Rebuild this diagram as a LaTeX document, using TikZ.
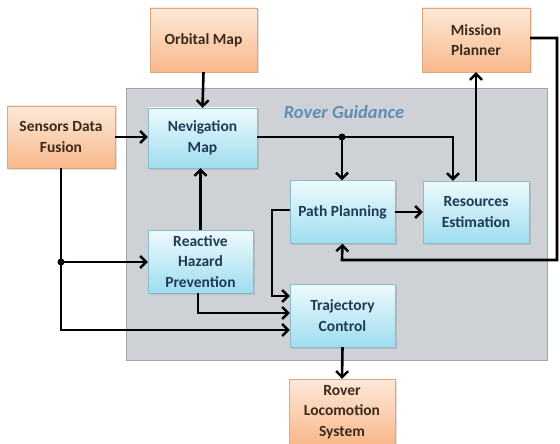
\documentclass[tikz,border=0pt]{standalone}
\usepackage{fontspec}
\setmainfont{Carlito}
\usetikzlibrary{arrows.meta,shadows}
\definecolor{orTop}{HTML}{FDE9D9}
\definecolor{orBot}{HTML}{F8B88A}
\definecolor{blTop}{HTML}{EEFAFD}
\definecolor{blBot}{HTML}{9EDDEF}
\definecolor{guideFill}{HTML}{CED1D6}
\definecolor{guideDraw}{HTML}{A3A7AD}
\definecolor{navy}{HTML}{1F3A55}
\definecolor{brownTxt}{HTML}{3A2A1C}
\definecolor{guideTxt}{HTML}{5F8DB3}
\tikzset{
  obox/.style={rectangle, top color=orTop, bottom color=orBot, draw=orBot!90!black, line width=0.4pt,
    align=center, font=\bfseries\fontsize{15.5}{20.5}\selectfont, text=brownTxt, inner sep=1pt,
    drop shadow={opacity=0.25, shadow xshift=1.5pt, shadow yshift=-1.5pt}},
  bbox/.style={rectangle, top color=blTop, bottom color=blBot, draw=blBot!85!black, line width=0.4pt,
    align=center, font=\bfseries\fontsize{15.5}{20.5}\selectfont, text=navy, inner sep=1pt,
    drop shadow={opacity=0.25, shadow xshift=1.5pt, shadow yshift=-1.5pt}},
  conn/.style={line width=2.6pt, -{Straight Barb[length=6pt,width=12pt,line width=2.4pt]}},
  jdot/.style={circle, fill=black, inner sep=0pt, minimum size=7pt},
}
\begin{document}
\begin{tikzpicture}[x=1pt,y=-1pt]
\useasboundingbox (0,0) rectangle (560,444);
\fill[white] (0,0) rectangle (560,444);
% guidance region
\draw[fill=guideFill, draw=guideDraw, line width=0.8pt] (126,88) rectangle (547,360);
\node[font=\bfseries\itshape\fontsize{18.5}{20}\selectfont, text=guideTxt] (gl) at (344,112) {Rover Guidance};
% boxes
\node[obox, minimum width=107pt, minimum height=64pt] (orb) at (203.5,40) {Orbital Map};
\node[obox, minimum width=108pt, minimum height=62pt] (sdf) at (61,137) {Sensors Data\\Fusion};
\node[obox, minimum width=108pt, minimum height=64pt] (mp) at (476,40) {Mission\\Planner};
\node[bbox, minimum width=109pt, minimum height=60pt] (nav) at (202.5,138) {Nevigation\\Map};
\node[bbox, minimum width=105pt, minimum height=63pt] (path) at (342.5,212) {Path Planning};
\node[bbox, minimum width=106pt, minimum height=62pt] (res) at (476,212) {Resources\\Estimation};
\node[bbox, minimum width=105pt, minimum height=63pt] (rhp) at (200.5,261.5) {Reactive\\Hazard\\Prevention};
\node[bbox, minimum width=105pt, minimum height=63pt] (traj) at (342.5,315.5) {Trajectory\\Control};
\node[obox, minimum width=106pt, minimum height=66pt] (rls) at (342,412) {Rover\\Locomotion\\System};
% junctions
\node[jdot] (j1) at (342,137) {};
\node[jdot] (j2) at (61,262) {};
\coordinate (c1) at (453,137);
\coordinate (c2) at (557,38);
\coordinate (c3) at (557,260);
\coordinate (c4) at (342,260);
\coordinate (c5) at (61,330);
\coordinate (c6) at (198,313);
\coordinate (c7) at (272,210);
\coordinate (c8) at (272,296);
% connectors
\draw[conn] (orb.south) -- (nav.north);
\draw[conn] (sdf.east |- 0,137) -- (nav.west |- 0,137);
\draw[conn] (nav.east |- 0,137) -- (c1) -- (c1 |- res.north);
\draw[conn] (j1.center) -- (j1 |- path.north);
\draw[conn] (path.east) -- (res.west);
\draw[conn] (res.north -| mp.south) -- (mp.south);
\draw[conn] (mp.east |- c2) -- (c2) -- (c3) -- (c4) -- (path.south);
\draw[conn] (rhp.north) -- (rhp.north |- nav.south);
\draw[conn] (sdf.south) -- (c5) -- (c5 -| traj.west);
\draw[conn] (j2.center) -- (j2 -| rhp.west);
\draw[conn] (rhp.south -| c6) -- (c6) -- (c6 -| traj.west);
\draw[conn] (path.west |- c7) -- (c7) -- (c8) -- (c8 -| traj.west);
\draw[conn] (traj.south) -- (rls.north);
\end{tikzpicture}
\end{document}
